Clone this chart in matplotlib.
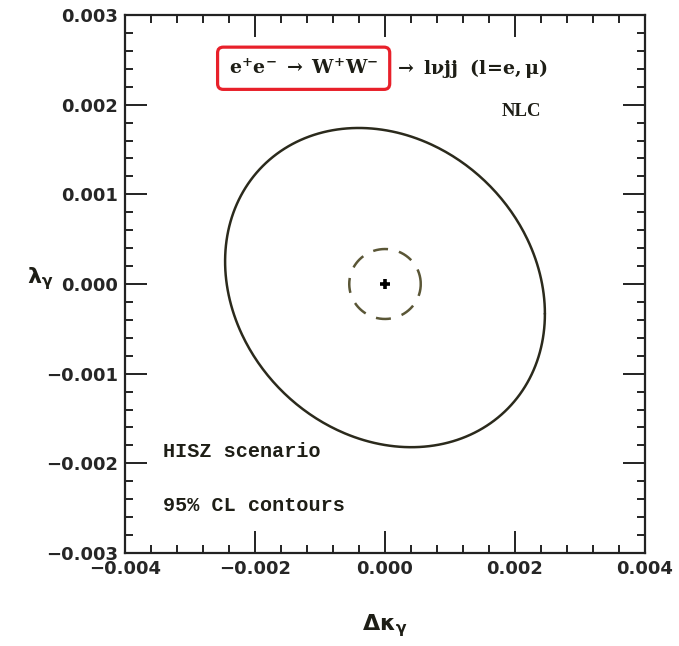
import numpy as np
import matplotlib
matplotlib.use("Agg")
import matplotlib.pyplot as plt
from matplotlib.ticker import MultipleLocator, FuncFormatter

plt.rcParams['mathtext.fontset'] = 'custom'
plt.rcParams['mathtext.rm'] = 'DejaVu Sans:bold'
plt.rcParams['mathtext.it'] = 'DejaVu Sans:bold'
plt.rcParams['mathtext.bf'] = 'DejaVu Sans:bold'

# ---- data ----
x_range = [-0.004, 0.004]
y_range = [-0.003, 0.003]
x_major = 0.002
x_minor = 0.0004
y_major = 0.001
y_minor = 0.0002

# 95% CL contour (solid): centre, extreme half-widths and covariance term
solid_center = (0.0, -0.00004)
solid_sx = 0.00246      # half-width in delta kappa
solid_sy = 0.00178      # half-height in lambda
solid_cov = -7.2e-7     # x_max * y(at x_max)
# small dashed contour
dashed_center = (0.0, 0.0)
dashed_rx = 0.00055
dashed_ry = 0.00039
# SM point
sm_point = (0.0, 0.0)

texts_process_a = r"$\mathbf{e^{+}e^{-}\ \rightarrow\ W^{+}W^{-}}$"
texts_process_b = r"$\mathbf{\rightarrow\ l\nu jj\ \ (l\!=\!e,\mu)}$"
text_nlc = "NLC"
text_scen = "HISZ scenario"
text_cl = "95% CL contours"
xlabel = r"$\Delta\kappa_{\gamma}$"
ylabel = r"$\lambda_{\gamma}$"

fig = plt.figure(figsize=(6.79, 6.46), dpi=100)
ax = fig.add_axes([125/679, 1-553/646, 520/679, 538/646])

ink = '#1e1e16'

# ellipse from covariance
S = np.array([[solid_sx**2, solid_cov], [solid_cov, solid_sy**2]])
L = np.linalg.cholesky(S)
t = np.linspace(0, 2*np.pi, 400)
pts = L @ np.vstack([np.cos(t), np.sin(t)])
ax.plot(pts[0] + solid_center[0], pts[1] + solid_center[1], color='#2b2a1c', lw=1.8,
        solid_capstyle='round', solid_joinstyle='round')

ax.plot(dashed_center[0] + dashed_rx*np.cos(t), dashed_center[1] + dashed_ry*np.sin(t),
        color='#5a5636', lw=1.8, dashes=(6, 4.5))

ax.plot([sm_point[0]], [sm_point[1]], marker='+', ms=7, mew=2.6, color='black', ls='none')


def fmt(v, pos):
    if abs(v) < 1e-12:
        v = 0.0
    return f"{v:.3f}".replace('-', '\u2212')


ax.set_xlim(*x_range)
ax.set_ylim(*y_range)
ax.xaxis.set_major_locator(MultipleLocator(x_major))
ax.xaxis.set_minor_locator(MultipleLocator(x_minor))
ax.yaxis.set_major_locator(MultipleLocator(y_major))
ax.yaxis.set_minor_locator(MultipleLocator(y_minor))
ax.xaxis.set_major_formatter(FuncFormatter(fmt))
ax.yaxis.set_major_formatter(FuncFormatter(fmt))
ax.tick_params(which='both', direction='in', top=True, right=True, width=1.4, color='#222')
ax.tick_params(which='major', length=16, labelsize=13, pad=5)
ax.tick_params(which='minor', length=6)
for lab in ax.get_xticklabels() + ax.get_yticklabels():
    lab.set_fontweight('bold')
    lab.set_family('DejaVu Sans')
    lab.set_color('#262626')
for s in ax.spines.values():
    s.set_linewidth(1.6)
    s.set_color('#222')

ax.set_xlabel(xlabel, fontsize=16, color=ink)
ax.set_ylabel(ylabel, fontsize=16, rotation=0, color=ink)
ax.xaxis.set_label_coords(0.5, -0.11)
ax.yaxis.set_label_coords(-0.163, 0.485)

t1 = ax.text(0.2, 0.901, texts_process_a, transform=ax.transAxes, fontsize=13.7,
             ha='left', va='center', color=ink, math_fontfamily='dejavuserif',
             bbox=dict(boxstyle='round,pad=0.6,rounding_size=0.3', fc='none', ec='#e8202a', lw=2.3))
ax.annotate(texts_process_b, xy=(1, 0.5), xycoords=t1, xytext=(11, 0),
            textcoords='offset points', fontsize=13.7, ha='left', va='center', color=ink,
            math_fontfamily='dejavuserif')

ax.text(0.763, 0.82, text_nlc, transform=ax.transAxes, fontsize=13.5, ha='center', va='center',
        family='Liberation Serif', fontweight='bold', color=ink)
ax.text(0.073, 0.188, text_scen, transform=ax.transAxes, fontsize=14.5, ha='left', va='center',
        family='Liberation Mono', fontweight='bold', color=ink)
ax.text(0.073, 0.089, text_cl, transform=ax.transAxes, fontsize=14.5, ha='left', va='center',
        family='Liberation Mono', fontweight='bold', color=ink)

fig.savefig("out.png", dpi=100)
